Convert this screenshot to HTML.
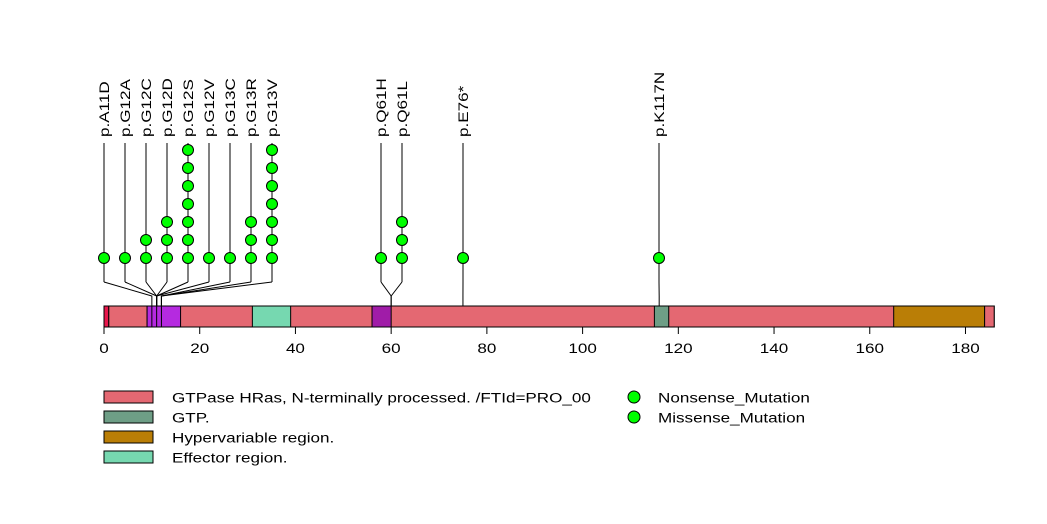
<!DOCTYPE html>
<html><head><meta charset="utf-8"><style>
body{margin:0;background:#fff}
svg{display:block;font-family:"Liberation Sans",Arial,sans-serif}
</style></head><body>
<svg id="c" width="1047" height="524" xmlns="http://www.w3.org/2000/svg"></svg>
<script>
const mutLabels=["p.A11D","p.G12A","p.G12C","p.G12D","p.G12S","p.G12V","p.G13C","p.G13R","p.G13V","p.Q61H","p.Q61L","p.E76*","p.K117N"];
const mutCounts=[1,1,2,3,7,1,1,3,7,1,3,1,1];
const mutPos=[10,11,11,11,11,11,12,12,12,60,60,75,116];
const domainStart=[0,1,9,31,56,115,165,184];
const domainEnd=[1,9,16,39,60,118,184,186];
const domainColors=["#e8174c","#e46872","#b52ae0","#76d8b0","#a01ca8","#6e9e86","#ba7e06","#e46872"];
const ticks=[0,20,40,60,80,100,120,140,160,180];
const protLen=186;
const ns="http://www.w3.org/2000/svg",svg=document.getElementById('c');
const X=v=>104+v*4.786;
const SX=1.22;
function el(t,a,p){const e=document.createElementNS(ns,t);for(const k in a)e.setAttribute(k,a[k]);(p||svg).appendChild(e);return e;}
let bg=el('rect',{x:X(0),y:306,width:X(protLen)-X(0),height:21,fill:"#e46872",stroke:"#000"});

domainStart.forEach((s,i)=>{const r=el('rect',{x:X(s),y:306,width:X(domainEnd[i])-X(s),height:21,fill:domainColors[i],stroke:"#000"});
});
[10,11,12].forEach(p=>el('line',{x1:X(p),y1:306,x2:X(p),y2:327,stroke:"#000"}));
ticks.forEach(t=>{el('line',{x1:X(t),y1:327,x2:X(t),y2:334,stroke:"#000"});
const tx=el('text',{x:0,y:0,'text-anchor':'middle','font-size':14,transform:`translate(${X(t)},353) scale(${SX},1)`});tx.textContent=t;
});
const lxs=[104,125,146,167,188,209,230,251,272,381,402,463,659];
mutLabels.forEach((lab,i)=>{
 const lx=lxs[i],px=X(mutPos[i]);
 const g=el('g',{});
 el('line',{x1:lx,y1:143,x2:lx,y2:282,stroke:"#000"},g);
 el('polyline',{points:`${lx},282 ${px},296 ${px},306`,fill:"none",stroke:"#000"},g);
 const t=el('text',{x:0,y:0,'font-size':14,transform:`translate(${lx+5},137) rotate(-90) scale(${SX},1)`},g);t.textContent=lab;
 for(let k=0;k<mutCounts[i];k++){el('circle',{cx:lx,cy:258-18*k,r:5.5,fill:"#00ff00",stroke:"#000"},g);}
});
const legNames=["GTPase HRas, N-terminally processed. /FTId=PRO_00","GTP.","Hypervariable region.","Effector region."];
const legCols=["#e46872","#6e9e86","#ba7e06","#76d8b0"];
legNames.forEach((n,i)=>{const g=el('g',{});
 el('rect',{x:104,y:391+i*20,width:49,height:12,fill:legCols[i],stroke:"#000"},g);
 const t=el('text',{x:0,y:0,'font-size':14,transform:`translate(172,402.5) translate(0,${i*20}) scale(${SX},1)`},g);t.textContent=n;});
["Nonsense_Mutation","Missense_Mutation"].forEach((n,i)=>{const g=el('g',{});
 el('circle',{cx:634,cy:397+i*20,r:6,fill:"#00ff00",stroke:"#000"},g);
 const t=el('text',{x:0,y:0,'font-size':14,transform:`translate(658,${402.5+i*20}) scale(${SX},1)`},g);t.textContent=n;});
</script>
</body></html>
